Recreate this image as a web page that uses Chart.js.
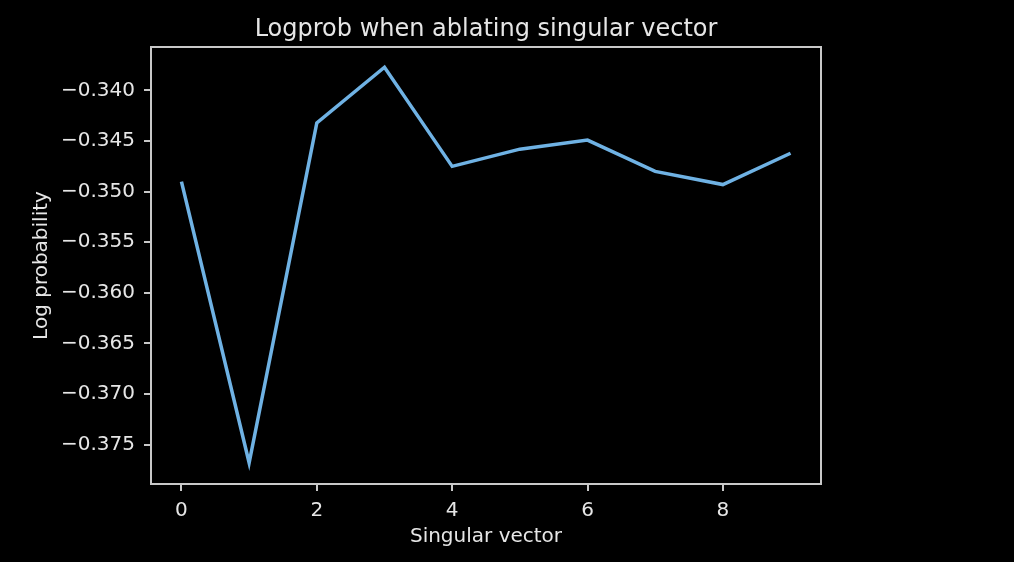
<!DOCTYPE html>
<html>
<head>
<meta charset="utf-8">
<script src="https://cdn.jsdelivr.net/npm/chart.js@4"></script>
<style>
  html, body { margin: 0; padding: 0; background: #000; }
  canvas { display: block; }
</style>
</head>
<body>
<canvas id="chart" width="1014" height="562"></canvas>
<script>
// values
const singularVectors = [0, 1, 2, 3, 4, 5, 6, 7, 8, 9];
const logProbs = [-0.3490, -0.3768, -0.3432, -0.3377, -0.3475, -0.3458, -0.3449, -0.3480, -0.3493, -0.3462];
const xTicks = [0, 2, 4, 6, 8];
const yTicks = [-0.375, -0.370, -0.365, -0.360, -0.355, -0.350, -0.345, -0.340];

const axisColor = '#c8c8c8';
const textColor = '#e6e6e6';
const font = 'DejaVu Sans';

// full box around the plot area, like matplotlib's spines
const frame = {
    id: 'frame',
    afterDatasetsDraw(chart) {
        const a = chart.chartArea;
        const ctx = chart.ctx;
        ctx.save();
        ctx.strokeStyle = axisColor;
        ctx.lineWidth = 2;
        ctx.strokeRect(a.left, a.top, a.right - a.left, a.bottom - a.top);
        ctx.restore();
    }
};

const ctx = document.getElementById('chart').getContext('2d');
new Chart(ctx, {
    type: 'line',
    data: {
        datasets: [{
            data: singularVectors.map((x, i) => ({ x: x, y: logProbs[i] })),
            borderColor: '#6fb2e4',
            borderWidth: 3.5,
            pointRadius: 0,
            tension: 0,
            fill: false
        }]
    },
    options: {
        responsive: false,
        animation: false,
        layout: { padding: { left: 0, right: 193, top: 0, bottom: 0 } },
        plugins: {
            legend: { display: false },
            tooltip: { enabled: false },
            title: {
                display: true,
                text: 'Logprob when ablating singular vector',
                color: textColor,
                fullSize: false,
                font: { family: font, size: 24, weight: 'normal' },
                padding: { top: 15, bottom: 3.2 }
            }
        },
        scales: {
            x: {
                type: 'linear',
                min: -0.45,
                max: 9.45,
                afterBuildTicks: s => { s.ticks = xTicks.map(v => ({ value: v })); },
                afterFit: s => { s.height = 78; },
                ticks: {
                    color: textColor,
                    padding: 8,
                    maxRotation: 0,
                    font: { family: font, size: 20 },
                    callback: v => String(v)
                },
                grid: { drawOnChartArea: false, drawTicks: true, tickLength: 7, color: axisColor, lineWidth: 2 },
                border: { display: true, color: axisColor, width: 2 },
                title: {
                    display: true,
                    text: 'Singular vector',
                    color: textColor,
                    font: { family: font, size: 20 },
                    padding: { top: 0, bottom: 13 }
                }
            },
            y: {
                type: 'linear',
                min: -0.3789,
                max: -0.3357,
                afterBuildTicks: s => { s.ticks = yTicks.map(v => ({ value: v })); },
                afterFit: s => { s.width = 151; },
                ticks: {
                    color: textColor,
                    padding: 9,
                    font: { family: font, size: 20 },
                    callback: v => '\u2212' + Math.abs(v).toFixed(3)
                },
                grid: { drawOnChartArea: false, drawTicks: true, tickLength: 7, color: axisColor, lineWidth: 2 },
                border: { display: true, color: axisColor, width: 2 },
                title: {
                    display: true,
                    text: 'Log probability',
                    color: textColor,
                    font: { family: font, size: 20 },
                    padding: { top: 30, bottom: 0 }
                }
            }
        }
    },
    plugins: [frame]
});
</script>
</body>
</html>
